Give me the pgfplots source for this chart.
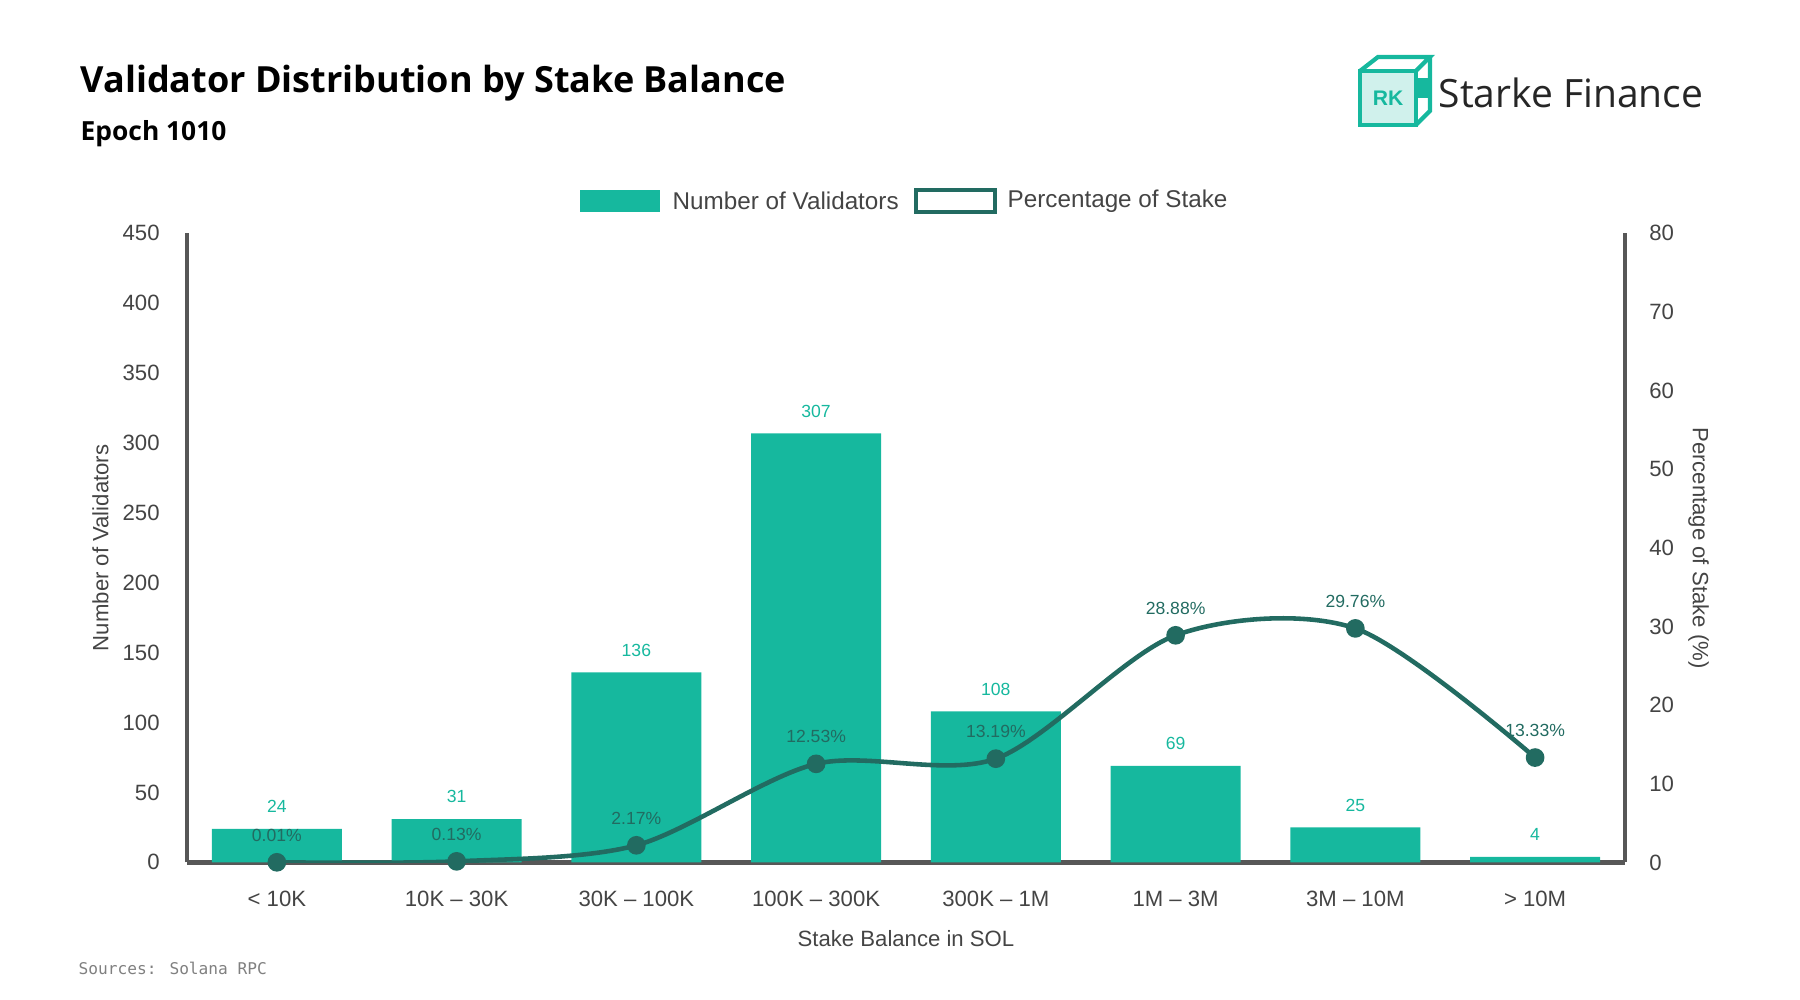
\documentclass[border=0pt]{standalone}
\usepackage{pgfplots}
\pgfplotsset{compat=1.18}
\usepackage{fontspec}
\setmainfont{Liberation Sans}
\newfontfamily\titlefont{Open Sans}
\newfontfamily\srcfont{DejaVu Sans Mono}
\definecolor{bar}{HTML}{16B89E}
\definecolor{ln}{HTML}{226B61}
\definecolor{txt}{HTML}{444444}
\begin{document}
\begin{tikzpicture}
\useasboundingbox (0,0) rectangle (18,10);
\node[anchor=west,inner sep=0pt,font=\titlefont\bfseries\fontsize{10.25}{12}\selectfont] at (0.8,9.17) {Validator Distribution by Stake Balance};
\node[anchor=west,inner sep=0pt,font=\titlefont\bfseries\fontsize{7.5}{9}\selectfont] at (0.8,8.66) {Epoch 1010};
\node[anchor=west,inner sep=0pt,font=\srcfont\fontsize{4.6}{6}\selectfont,text=gray] at (0.78,0.32) {Sources: Solana RPC};
\node[anchor=west,inner sep=0pt,font=\titlefont\fontsize{11.1}{13}\selectfont,text=black!85] at (14.38,9.07) {Starke Finance};
% logo icon
\begin{scope}[shift={(13.88,9.07)},line width=1.2pt,draw=bar]
\filldraw[fill=bar!20] (-0.28,-0.32) rectangle (0.28,0.22);
\draw (-0.28,0.22) -- (-0.1,0.36) -- (0.42,0.36) -- (0.28,0.22);
\draw (0.42,0.36) -- (0.42,-0.18) -- (0.28,-0.32);
\fill[bar] (0.3,-0.05) rectangle (0.42,0.15);
\node[font=\bfseries\fontsize{6}{6}\selectfont,text=bar] at (0,-0.05) {RK};
\end{scope}
% legend
\fill[bar] (5.8,7.88) rectangle (6.6,8.1);
\node[anchor=west,inner sep=0pt,font=\fontsize{6.9}{8}\selectfont,text=txt] at (6.72,7.99) {Number of Validators};
\draw[ln,line width=1.3pt] (9.16,7.88) rectangle (9.95,8.1);
\node[anchor=west,inner sep=0pt,font=\fontsize{6.9}{8}\selectfont,text=txt] at (10.07,7.99) {Percentage of Stake};
\begin{axis}[at={(1.87cm,1.376cm)},anchor=south west,scale only axis,
 width=14.38cm,height=6.29cm,
 xmin=-0.5,xmax=7.5,ymin=0,ymax=450,
 ytick={0,50,...,450},
 xtick={0,...,7},
 xticklabels={< 10K,10K -- 30K,30K -- 100K,100K -- 300K,300K -- 1M,1M -- 3M,3M -- 10M,> 10M},
 axis y line*=left, axis x line*=bottom,
 axis line style={txt!90,line width=1.3pt},
 tick style={draw=none},
 ticklabel style={font=\fontsize{6.3}{7}\selectfont,text=txt},
 /pgf/number format/assume math mode=true,
 yticklabel style={xshift=-0.15cm},
 xticklabel style={yshift=-0.16cm},
 xlabel={Stake Balance in SOL},ylabel={Number of Validators},
 label style={font=\fontsize{6.3}{7}\selectfont,text=txt},
 xlabel style={yshift=0cm},
 ylabel style={yshift=-0.1cm},
 nodes near coords,
 every node near coord/.append style={font=\fontsize{5}{6}\selectfont,text=bar,yshift=1pt},
]
\addplot[ybar,bar width=1.3cm,fill=bar,draw=none] coordinates {(0,24)(1,31)(2,136)(3,307)(4,108)(5,69)(6,25)(7,4)};
\end{axis}
\begin{axis}[at={(1.87cm,1.376cm)},anchor=south west,scale only axis,
 width=14.38cm,height=6.29cm,
 xmin=-0.5,xmax=7.5,ymin=0,ymax=80,
 ytick={0,10,...,80},
 axis y line*=right, axis x line=none,
 axis line style={txt!90,line width=1.3pt},
 tick style={draw=none},
 ticklabel style={font=\fontsize{6.3}{7}\selectfont,text=txt},
 /pgf/number format/assume math mode=true,
 yticklabel style={xshift=0.12cm},
 ylabel={Percentage of Stake (\%)},
 ylabel style={font=\fontsize{6.3}{7}\selectfont,text=txt,rotate=180,yshift=-0.1cm},
 nodes near coords={\pgfmathprintnumber[fixed,fixed zerofill,precision=2]{\pgfplotspointmeta}\%},
 every node near coord/.append style={font=\fontsize{5}{6}\selectfont,text=ln,yshift=2pt},
]
\addplot[ln,line width=1.3pt,smooth,tension=0.5,mark=*,mark size=2pt,mark options={fill=ln}] coordinates {(0,0.01)(1,0.13)(2,2.17)(3,12.53)(4,13.19)(5,28.88)(6,29.76)(7,13.33)};
\end{axis}
\end{tikzpicture}
\end{document}
